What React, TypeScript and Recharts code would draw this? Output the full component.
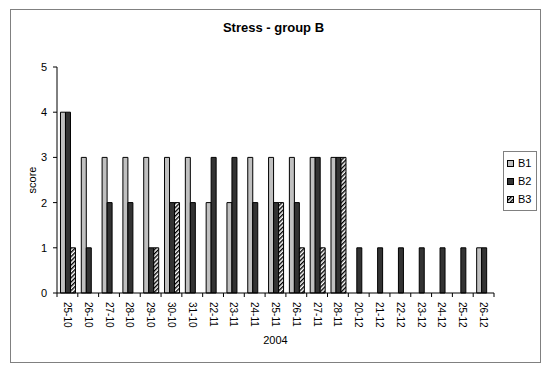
import React from 'react';
import { BarChart, Bar, XAxis, YAxis, Legend } from 'recharts';

const dates = [
  '25-10', '26-10', '27-10', '28-10', '29-10', '30-10', '31-10',
  '22-11', '23-11', '24-11', '25-11', '26-11', '27-11', '28-11',
  '20-12', '21-12', '22-12', '23-12', '24-12', '25-12', '26-12',
];
const b1 = [4, 3, 3, 3, 3, 3, 3, 2, 2, 3, 3, 3, 3, 3, 0, 0, 0, 0, 0, 0, 1];
const b2 = [4, 1, 2, 2, 1, 2, 2, 3, 3, 2, 2, 2, 3, 3, 1, 1, 1, 1, 1, 1, 1];
const b3 = [1, 0, 0, 0, 1, 2, 0, 0, 0, 0, 2, 1, 1, 3, 0, 0, 0, 0, 0, 0, 0];
const yTicks = [0, 1, 2, 3, 4, 5];

const data = dates.map((d, i) => ({ date: d, B1: b1[i], B2: b2[i], B3: b3[i] }));

const font = '"Liberation Sans", Arial, sans-serif';

const series = [
  { key: 'B1', fill: '#c0c0c0' },
  { key: 'B2', fill: '#333333' },
  { key: 'B3', fill: 'url(#hatch)' },
];

const DateTick = (props: any) => {
  const { x, y, payload, index } = props;
  const off = payload.offset || 0;
  const last = index === dates.length - 1;
  return (
    <g>
      <line x1={x - off} x2={x - off} y1={y} y2={y + 4} stroke="#000" />
      {last && <line x1={x + off} x2={x + off} y1={y} y2={y + 4} stroke="#000" />}
      <text
        transform={`translate(${x},${y + 9}) rotate(90)`}
        textAnchor="start"
        dominantBaseline="central"
        fontSize={10}
        fontFamily={font}
        fill="#000"
      >
        {payload.value}
      </text>
    </g>
  );
};

const LegendBox = () => (
  <div
    style={{
      border: '1px solid #808080',
      background: '#fff',
      width: 32,
      padding: '2px 0',
      fontFamily: font,
      fontSize: 11,
    }}
  >
    {series.map((s) => (
      <div key={s.key} style={{ display: 'flex', alignItems: 'center', height: 18, paddingLeft: 3 }}>
        <svg width={7} height={7} style={{ marginRight: 4 }}>
          <rect x={0.5} y={0.5} width={6} height={6} fill={s.fill} stroke="#000" />
        </svg>
        <span>{s.key}</span>
      </div>
    ))}
  </div>
);

export default function App() {
  return (
    <div style={{ position: 'absolute', left: 0, top: 0, width: 549, height: 374, background: '#fff' }}>
      <div
        style={{
          position: 'absolute',
          left: 10,
          top: 9,
          width: 529,
          height: 352,
          border: '1px solid #808080',
        }}
      />
      <div
        style={{
          position: 'absolute',
          left: 0,
          top: 20,
          width: 547,
          textAlign: 'center',
          fontFamily: font,
          fontWeight: 'bold',
          fontSize: 13,
        }}
      >
        Stress - group B
      </div>
      <BarChart
        width={549}
        height={374}
        data={data}
        margin={{ top: 67, right: 55, bottom: 0, left: 0 }}
        barCategoryGap="16.7%"
        barGap={0}
        style={{ position: 'absolute', left: 0, top: 0 }}
      >
        <defs>
          <pattern id="hatch" width={3} height={3} patternUnits="userSpaceOnUse" patternTransform="rotate(45)">
            <rect width={3} height={3} fill="#fff" />
            <line x1={0.7} y1={0} x2={0.7} y2={3} stroke="#000" strokeWidth={1.4} />
          </pattern>
        </defs>
        <XAxis
          dataKey="date"
          height={81}
          interval={0}
          tickSize={0}
          tickMargin={0}
          tickLine={false}
          axisLine={{ stroke: '#000' }}
          tick={<DateTick />}
          label={{ value: '2004', position: 'insideBottom', offset: 30, fontSize: 11, fontFamily: font, fill: '#000' }}
        />
        <YAxis
          width={57}
          domain={[0, 5]}
          ticks={yTicks}
          interval={0}
          tickSize={4}
          tickMargin={6}
          axisLine={{ stroke: '#000' }}
          tickLine={{ stroke: '#000' }}
          tick={{ fontSize: 11, fontFamily: font, fill: '#000' }}
          label={{ value: 'score', angle: -90, position: 'center', dx: 4, fontSize: 11, fontFamily: font, fill: '#000' }}
        />
        <Legend
          layout="vertical"
          align="center"
          verticalAlign="middle"
          content={<LegendBox />}
          wrapperStyle={{ position: 'absolute', left: 503, top: 151, width: 34, height: 'auto' }}
        />
        {series.map((s) => (
          <Bar key={s.key} dataKey={s.key} fill={s.fill} stroke="#000" strokeWidth={1} isAnimationActive={false} />
        ))}
      </BarChart>
    </div>
  );
}
